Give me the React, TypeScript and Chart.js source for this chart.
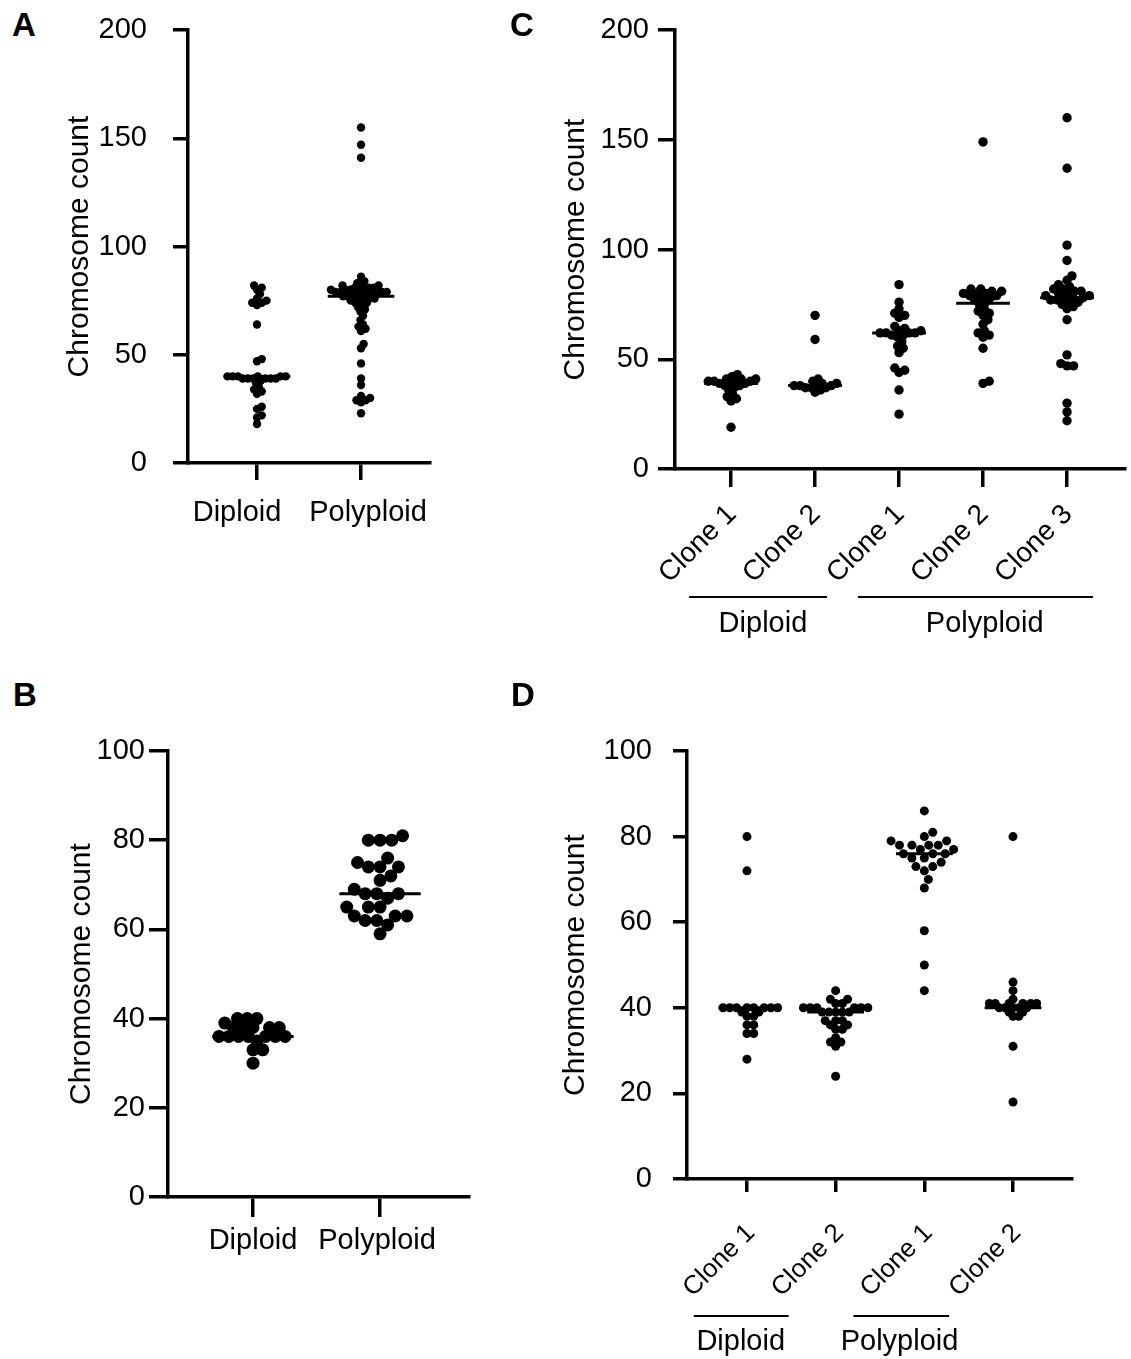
import { useEffect, useRef } from 'react';
import { Chart, registerables } from 'chart.js';

Chart.register(...registerables);

const FONT = '"Liberation Sans", Arial, Helvetica, sans-serif';

// ---------- DATA ----------
// Panel A
const aCategories = ['Diploid', 'Polyploid'];
const aDiploid = [82, 81, 80, 78, 76, 75, 74, 74, 73, 64, 48, 47, 40, 40, 40, 40, 40, 40, 39, 39, 39, 39, 39, 39, 38, 37, 35, 34, 33, 32, 26, 25, 22, 21, 18];
const aPolyploid = [155, 147, 141, 86, 84, 83, 82, 82, 82, 81, 81, 81, 80, 80, 80, 80, 80, 79, 79, 79, 79, 79, 78, 78, 78, 78, 77, 77, 77, 76, 76, 76, 75, 75, 74, 74, 73, 72, 71, 70, 68, 66, 64, 63, 62, 61, 55, 53, 46, 39, 36, 31, 30, 29, 29, 28, 23];
const aYTicks = [0, 50, 100, 150, 200];

// Panel B
const bCategories = ['Diploid', 'Polyploid'];
const bDiploid = [40, 40, 40, 39, 38, 38, 38, 38, 38, 36, 36, 36, 36, 36, 36, 36, 35, 33, 33, 30];
const bPolyploid = [81, 80, 80, 80, 76, 75, 74, 74, 74, 72, 71, 69, 68, 68, 68, 67, 65, 65, 65, 63, 63, 63, 62, 62, 61, 59];
const bYTicks = [0, 20, 40, 60, 80, 100];

// Panel C
const cCategories = ['Clone 1', 'Clone 2', 'Clone 1', 'Clone 2', 'Clone 3'];
const cDiploidClone1 = [43, 42, 41, 41, 41, 40, 40, 40, 40, 39, 39, 39, 38, 38, 37, 36, 34, 33, 32, 31, 19];
const cDiploidClone2 = [70, 59, 41, 40, 39, 39, 38, 38, 38, 38, 37, 37, 37, 36, 35];
const cPolyClone1 = [84, 76, 73, 71, 70, 69, 65, 64, 63, 63, 62, 62, 62, 62, 61, 61, 60, 58, 56, 55, 53, 46, 45, 44, 36, 25];
const cPolyClone2 = [149, 82, 82, 81, 81, 80, 80, 80, 79, 79, 78, 78, 77, 76, 75, 73, 72, 71, 70, 68, 66, 63, 62, 61, 60, 55, 40, 39];
const cPolyClone3 = [160, 137, 102, 95, 88, 86, 84, 83, 82, 82, 81, 81, 80, 80, 79, 79, 78, 78, 78, 77, 77, 76, 76, 75, 74, 73, 68, 52, 48, 47, 47, 30, 26, 22];
const cGroups = ['Diploid', 'Polyploid'];
const cYTicks = [0, 50, 100, 150, 200];

// Panel D
const dCategories = ['Clone 1', 'Clone 2', 'Clone 1', 'Clone 2'];
const dDiploidClone1 = [80, 72, 40, 40, 40, 40, 40, 40, 40, 40, 39, 39, 38, 38, 36, 36, 34, 34, 28];
const dDiploidClone2 = [44, 42, 42, 41, 41, 40, 40, 40, 40, 40, 40, 39, 39, 39, 39, 39, 37, 37, 37, 36, 36, 35, 35, 33, 32, 32, 31, 24];
const dPolyClone1 = [86, 81, 80, 79, 79, 78, 78, 78, 78, 77, 77, 76, 76, 76, 75, 75, 74, 73, 73, 72, 70, 68, 58, 50, 44];
const dPolyClone2 = [80, 46, 44, 42, 41, 41, 41, 41, 41, 41, 40, 40, 40, 40, 40, 39, 39, 38, 38, 31, 18];
const dGroups = ['Diploid', 'Polyploid'];
const dYTicks = [0, 20, 40, 60, 80, 100];

const yTitle = 'Chromosome count';

// ---------- LAYOUT ----------
type GroupLayout = { lineFrom: number; lineTo: number; textAt: number };

type PanelCfg = {
  letter: string;
  letterPos: [number, number];
  left: number; top: number; width: number; height: number;
  padTop: number; padRight: number;
  yWidth: number; xHeight: number;
  yTicks: number[];
  xMin: number; xMax: number;
  categories: string[];
  series: number[][];
  radius: number; distFactor: number[];
  yTickLen: number; yTickPad: number; xTickLen: number;
  titlePad: number;
  rotated: boolean;
  rotDx: number;
  labelDy: number;
  labelShift: number[];
  catFont: number;
  groups: string[];
  groupLayout: GroupLayout[];
  groupLineDy: number;
  groupTextDy: number;
};

const panels: PanelCfg[] = [
  {
    letter: 'A', letterPos: [12, 8],
    left: 40, top: -15, width: 480, height: 575,
    padTop: 45, padRight: 90, yWidth: 148, xHeight: 97,
    yTicks: aYTicks, xMin: 0.3365, xMax: 2.663,
    categories: aCategories, series: [aDiploid, aPolyploid],
    radius: 4.2, distFactor: [0.62, 0.6],
    yTickLen: 15, yTickPad: 26, xTickLen: 17, titlePad: 22,
    rotated: false, rotDx: 0, labelDy: 58, labelShift: [-20, 7], catFont: 29,
    groups: [], groupLayout: [], groupLineDy: 0, groupTextDy: 0,
  },
  {
    letter: 'B', letterPos: [13, 678],
    left: 40, top: 660, width: 480, height: 620,
    padTop: 91, padRight: 51, yWidth: 128, xHeight: 83,
    yTicks: bYTicks, xMin: 0.331, xMax: 2.70,
    categories: bCategories, series: [bDiploid, bPolyploid],
    radius: 6.5, distFactor: [0.75, 0.9],
    yTickLen: 19, yTickPad: 4, xTickLen: 20, titlePad: 24,
    rotated: false, rotDx: 0, labelDy: 52, labelShift: [0, -3], catFont: 29,
    groups: [], groupLayout: [], groupLineDy: 0, groupTextDy: 0,
  },
  {
    letter: 'C', letterPos: [510, 8],
    left: 530, top: 0, width: 601, height: 660,
    padTop: 30, padRight: 6, yWidth: 145, xHeight: 191,
    yTicks: cYTicks, xMin: 0.333, xMax: 5.69,
    categories: cCategories,
    series: [cDiploidClone1, cDiploidClone2, cPolyClone1, cPolyClone2, cPolyClone3],
    radius: 4.7, distFactor: [0.62, 0.62, 0.65, 0.7, 0.7],
    yTickLen: 17, yTickPad: 9, xTickLen: 18, titlePad: 28,
    rotated: true, rotDx: 1, labelDy: 41, labelShift: [], catFont: 28,
    groups: cGroups,
    groupLayout: [
      { lineFrom: 0.5, lineTo: 2.143, textAt: 1.38 },
      { lineFrom: 2.51, lineTo: 5.31, textAt: 4.02 },
    ],
    groupLineDy: 128, groupTextDy: 163,
  },
  {
    letter: 'D', letterPos: [511, 678],
    left: 530, top: 660, width: 601, height: 699,
    padTop: 91, padRight: 59, yWidth: 157, xHeight: 180,
    yTicks: dYTicks, xMin: 0.324, xMax: 4.665,
    categories: dCategories,
    series: [dDiploidClone1, dDiploidClone2, dPolyClone1, dPolyClone2],
    radius: 4.5, distFactor: [0.75, 0.75, 1.05, 0.65],
    yTickLen: 14, yTickPad: 21, xTickLen: 13, titlePad: 28,
    rotated: true, rotDx: 4, labelDy: 50, labelShift: [], catFont: 26,
    groups: dGroups,
    groupLayout: [
      { lineFrom: 0.40, lineTo: 1.47, textAt: 0.93 },
      { lineFrom: 2.20, lineTo: 3.28, textAt: 2.72 },
    ],
    groupLineDy: 137, groupTextDy: 171,
  },
];

// ---------- HELPERS ----------
function median(values: number[]): number {
  const s = [...values].sort((a, b) => a - b);
  const n = s.length;
  return n % 2 ? s[(n - 1) / 2] : (s[n / 2 - 1] + s[n / 2]) / 2;
}

// Deterministic beeswarm: returns horizontal pixel offsets for each value.
function swarm(values: number[], toPx: (v: number) => number, dist: number): number[] {
  const order = values.map((_, i) => i).sort((a, b) => values[a] - values[b]);
  const placed: { x: number; y: number }[] = [];
  const out = new Array(values.length).fill(0);
  const d2 = dist * dist;
  for (const i of order) {
    const y = toPx(values[i]);
    const cands: number[] = [0];
    for (const p of placed) {
      const dy = Math.abs(p.y - y);
      if (dy < dist) {
        const dx = Math.sqrt(d2 - dy * dy);
        cands.push(p.x + dx, p.x - dx);
      }
    }
    cands.sort((a, b) => Math.abs(a) - Math.abs(b));
    let chosen = 0;
    for (const c of cands) {
      let ok = true;
      for (const p of placed) {
        const ddx = p.x - c;
        const ddy = p.y - y;
        if (ddx * ddx + ddy * ddy < d2 - 0.01) { ok = false; break; }
      }
      if (ok) { chosen = c; break; }
    }
    placed.push({ x: chosen, y });
    out[i] = chosen;
  }
  return out;
}

function PanelChart({ p }: { p: PanelCfg }) {
  const ref = useRef<HTMLCanvasElement>(null);
  useEffect(() => {
    const canvas = ref.current;
    if (!canvas) return;

    const labelPlugin = {
      id: 'categoryLabels',
      afterDraw(chart: any) {
        const ctx = chart.ctx as CanvasRenderingContext2D;
        const xs = chart.scales.x;
        const axisY = chart.chartArea.bottom;
        ctx.save();
        ctx.fillStyle = '#000';
        ctx.strokeStyle = '#000';
        p.categories.forEach((lab, i) => {
          const px = xs.getPixelForValue(i + 1);
          ctx.font = `${p.catFont}px ${FONT}`;
          if (p.rotated) {
            ctx.save();
            ctx.translate(px + p.rotDx, axisY + p.labelDy);
            ctx.rotate(-Math.PI / 4);
            ctx.textAlign = 'right';
            ctx.textBaseline = 'middle';
            ctx.fillText(lab, 0, 0);
            ctx.restore();
          } else {
            ctx.textAlign = 'center';
            ctx.textBaseline = 'alphabetic';
            ctx.fillText(lab, px + (p.labelShift[i] || 0), axisY + p.labelDy);
          }
        });
        p.groups.forEach((g, i) => {
          const gl = p.groupLayout[i];
          ctx.lineWidth = 2;
          ctx.beginPath();
          ctx.moveTo(xs.getPixelForValue(gl.lineFrom), axisY + p.groupLineDy);
          ctx.lineTo(xs.getPixelForValue(gl.lineTo), axisY + p.groupLineDy);
          ctx.stroke();
          ctx.font = `29px ${FONT}`;
          ctx.textAlign = 'center';
          ctx.textBaseline = 'alphabetic';
          ctx.fillText(g, xs.getPixelForValue(gl.textAt), axisY + p.groupTextDy);
        });
        ctx.restore();
      },
    };

    const yMax = p.yTicks[p.yTicks.length - 1];
    const yStep = p.yTicks[1] - p.yTicks[0];

    const pointSets = p.series.map((vals, i) => ({
      data: vals.map((v) => ({ x: i + 1, y: v })),
      backgroundColor: '#000',
      borderWidth: 0,
      pointRadius: p.radius,
      pointHoverRadius: p.radius,
      clip: false as any,
    }));
    const medianSets = p.series.map((vals, i) => {
      const m = median(vals);
      return {
        data: [{ x: i + 1 - 0.32, y: m }, { x: i + 1 + 0.32, y: m }],
        showLine: true,
        borderColor: '#000',
        borderWidth: 3,
        pointRadius: 0,
        clip: false as any,
      };
    });

    const chart = new Chart(canvas, {
      type: 'scatter',
      data: { datasets: [...pointSets, ...medianSets] as any },
      options: {
        animation: false,
        responsive: false,
        events: [],
        layout: { padding: { top: p.padTop, right: p.padRight, left: 0, bottom: 0 }, autoPadding: false } as any,
        plugins: { legend: { display: false }, tooltip: { enabled: false } },
        scales: {
          x: {
            type: 'linear',
            min: p.xMin,
            max: p.xMax,
            afterBuildTicks: (s: any) => {
              s.ticks = p.categories.map((_, i) => ({ value: i + 1 }));
            },
            afterFit: (s: any) => { s.height = p.xHeight; },
            ticks: { display: false },
            grid: {
              display: true,
              drawOnChartArea: false,
              drawTicks: true,
              tickLength: p.xTickLen,
              tickWidth: 3.5,
              tickColor: '#000',
              color: '#000',
              lineWidth: 3.5,
            },
            border: { display: true, color: '#000', width: 3.5 },
          },
          y: {
            type: 'linear',
            min: 0,
            max: yMax,
            afterBuildTicks: (s: any) => {
              s.ticks = p.yTicks.map((v) => ({ value: v }));
            },
            afterFit: (s: any) => { s.width = p.yWidth; },
            ticks: {
              stepSize: yStep,
              color: '#000',
              padding: p.yTickPad,
              font: { size: 29, family: FONT },
            },
            title: {
              display: true,
              text: yTitle,
              color: '#000',
              font: { size: 30, family: FONT, lineHeight: 1.2 },
              padding: { top: p.titlePad, bottom: 0 },
            },
            grid: {
              display: true,
              drawOnChartArea: false,
              drawTicks: true,
              tickLength: p.yTickLen,
              tickWidth: 3.5,
              tickColor: '#000',
              color: '#000',
              lineWidth: 3.5,
            },
            border: { display: true, color: '#000', width: 3.5 },
          },
        },
      },
      plugins: [labelPlugin as any],
    });

    // Beeswarm layout through the chart's own scales
    const ys = chart.scales.y;
    const xs = chart.scales.x;
    const unitPx = xs.getPixelForValue(2) - xs.getPixelForValue(1);
    p.series.forEach((vals, i) => {
      const dist = p.radius * 2 * p.distFactor[i];
      const offs = swarm(vals, (v) => ys.getPixelForValue(v), dist);
      (chart.data.datasets[i] as any).data = vals.map((v, k) => ({
        x: i + 1 + offs[k] / unitPx,
        y: v,
      }));
    });
    chart.update('none');

    return () => chart.destroy();
  }, [p]);

  return (
    <canvas
      ref={ref}
      width={p.width}
      height={p.height}
      style={{ position: 'absolute', left: p.left, top: p.top, width: p.width, height: p.height }}
    />
  );
}

export default function App() {
  return (
    <div
      style={{
        position: 'absolute',
        left: 0,
        top: 0,
        width: 1131,
        height: 1359,
        overflow: 'hidden',
        background: '#fff',
        fontFamily: FONT,
      }}
    >
      {panels.map((p) => (
        <PanelChart key={p.letter} p={p} />
      ))}
      {panels.map((p) => (
        <div
          key={'L' + p.letter}
          style={{
            position: 'absolute',
            left: p.letterPos[0],
            top: p.letterPos[1],
            font: `bold 33px ${FONT}`,
            lineHeight: '33px',
            color: '#000',
          }}
        >
          {p.letter}
        </div>
      ))}
    </div>
  );
}
